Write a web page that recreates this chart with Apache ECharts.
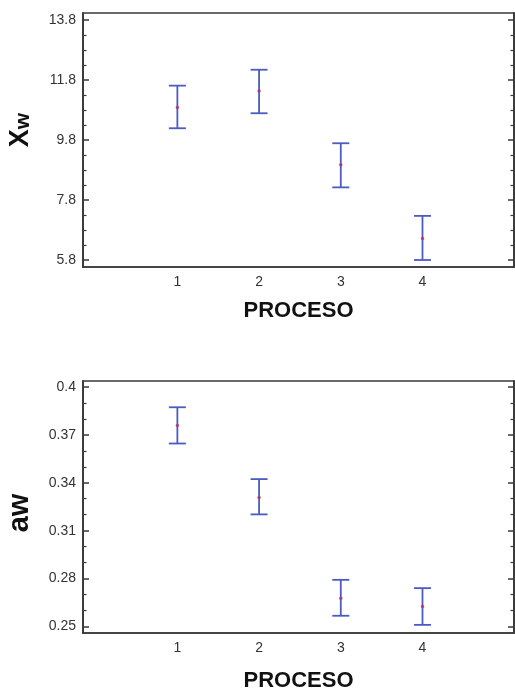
<!DOCTYPE html>
<html>
<head>
<meta charset="utf-8">
<style>
html,body{margin:0;padding:0;background:#fff;}
#c{width:515px;height:694px;}
</style>
<script src="https://cdn.jsdelivr.net/npm/echarts@6/dist/echarts.min.js"></script>
</head>
<body>
<div id="c"></div>
<script>
// ---- data ----
const procesos = [1, 2, 3, 4];
const xwMean  = [10.88, 11.43, 8.97, 6.52];
const xwLow   = [10.19, 10.69, 8.22, 5.80];
const xwHigh  = [11.61, 12.14, 9.69, 7.27];
const awMean  = [0.3758, 0.3308, 0.2677, 0.2625];
const awLow   = [0.3646, 0.3202, 0.2567, 0.2510];
const awHigh  = [0.3873, 0.3423, 0.2792, 0.2740];
const xwTicks = [5.8, 7.8, 9.8, 11.8, 13.8];
const awTicks = [0.25, 0.28, 0.31, 0.34, 0.37, 0.40];
const xTickLabels = [1, 2, 3, 4];

function minorsOf(ticks, n) {
  const out = [];
  for (let i = 0; i < ticks.length - 1; i++) {
    const step = (ticks[i + 1] - ticks[i]) / n;
    for (let k = 1; k < n; k++) out.push(+(ticks[i] + step * k).toFixed(6));
  }
  return out;
}

const BAR = '#4b5bc2';
const DOT = '#b8325a';
const AXC = '#3a3a3a';
const FONT = "'Liberation Sans', Arial, sans-serif";
const XMIN = -0.155, XMAX = 5.12;

// grids: 0 = Xw main, 1 = Xw minor-tick overlay, 2 = aw main, 3 = aw minor-tick overlay
const gridBase = { left: 83, right: 1, containLabel: false, outerBoundsMode: 'none' };
const grids = [
  Object.assign({}, gridBase, { top: 13, height: 254, show: true, borderColor: AXC, borderWidth: 1.5, backgroundColor: '#fff' }),
  Object.assign({}, gridBase, { top: 13, height: 254, show: false }),
  Object.assign({}, gridBase, { top: 381, height: 252, show: true, borderColor: AXC, borderWidth: 1.5, backgroundColor: '#fff' }),
  Object.assign({}, gridBase, { top: 381, height: 252, show: false })
];

function yPair(gridIndex, min, max, values, tickLen, withLabels, nameOpts) {
  const mk = (pos) => {
    const a = {
      type: 'value', gridIndex, min, max, position: pos, offset: 0,
      splitLine: { show: false },
      axisLine: { show: true, onZero: false, lineStyle: { color: AXC, width: 1.5 } },
      axisTick: { show: true, inside: true, length: tickLen, customValues: values, lineStyle: { color: AXC, width: tickLen > 4 ? 1.5 : 1.2 } },
      axisLabel: { show: false }
    };
    if (pos === 'left' && withLabels) {
      a.axisLabel = { show: true, customValues: values, margin: 7, color: '#333', fontSize: 14, fontFamily: FONT };
      Object.assign(a, nameOpts);
    }
    return a;
  };
  return [mk('left'), mk('right')];
}

function xAxisFor(gridIndex, visible, nameGap) {
  const a = {
    type: 'value', gridIndex, min: XMIN, max: XMAX, offset: 0, position: 'bottom',
    splitLine: { show: false },
    axisLine: { show: visible, onZero: false, lineStyle: { color: AXC, width: 1.5 } },
    axisTick: { show: false },
    axisLabel: { show: false }
  };
  if (visible) {
    a.name = 'PROCESO';
    a.nameLocation = 'middle';
    a.nameGap = nameGap;
    a.nameTextStyle = { fontSize: 22, fontWeight: 'bold', color: '#111', fontFamily: FONT };
    a.axisLabel = { show: true, customValues: xTickLabels, margin: 8, color: '#333', fontSize: 14, fontFamily: FONT };
  }
  return a;
}

const xwName = {
  name: '{b|X}{s|w}', nameLocation: 'middle', nameGap: 49, nameRotate: 90,
  nameTextStyle: {
    padding: [0, 0, 0, 20],
    rich: {
      b: { fontSize: 27, fontWeight: 'bold', color: '#111', fontFamily: FONT, verticalAlign: 'bottom' },
      s: { fontSize: 21, fontWeight: 'bold', color: '#111', fontFamily: FONT, verticalAlign: 'bottom' }
    }
  }
};
const awName = {
  name: 'aw', nameLocation: 'middle', nameGap: 49, nameRotate: 90,
  nameTextStyle: { fontSize: 29, fontWeight: 'bold', color: '#111', fontFamily: FONT, padding: [0, 12, 0, 0] }
};

const yAxes = [].concat(
  yPair(0, 5.567, 14.03, xwTicks, 6, true, xwName),                 // 0,1
  yPair(1, 5.567, 14.03, minorsOf(xwTicks, 4), 3.5, false, null),  // 2,3
  yPair(2, 0.2459, 0.40375, awTicks, 6, true, awName),              // 4,5
  yPair(3, 0.2459, 0.40375, minorsOf(awTicks, 3), 3.5, false, null) // 6,7
);

function errorSeries(xIdx, yIdx, low, high) {
  return {
    type: 'custom', xAxisIndex: xIdx, yAxisIndex: yIdx,
    data: procesos.map((p, i) => [p, low[i], high[i]]),
    encode: { x: 0, y: [1, 2] },
    renderItem: function (params, api) {
      const x = api.value(0);
      const lo = api.coord([x, api.value(1)]);
      const hi = api.coord([x, api.value(2)]);
      const hw = 8.5;
      const st = { stroke: BAR, lineWidth: 1.8 };
      return {
        type: 'group',
        children: [
          { type: 'line', shape: { x1: lo[0], y1: lo[1], x2: hi[0], y2: hi[1] }, style: st },
          { type: 'line', shape: { x1: lo[0] - hw, y1: lo[1], x2: lo[0] + hw, y2: lo[1] }, style: st },
          { type: 'line', shape: { x1: hi[0] - hw, y1: hi[1], x2: hi[0] + hw, y2: hi[1] }, style: st }
        ]
      };
    },
    silent: true
  };
}

function meanSeries(xIdx, yIdx, mean) {
  return {
    type: 'scatter', xAxisIndex: xIdx, yAxisIndex: yIdx,
    data: procesos.map((p, i) => [p, mean[i]]),
    symbol: 'circle', symbolSize: 3.5,
    itemStyle: { color: DOT },
    silent: true, z: 5
  };
}

const chart = echarts.init(document.getElementById('c'), null, { renderer: 'canvas' });
chart.setOption({
  animation: false,
  backgroundColor: '#fff',
  grid: grids,
  xAxis: [xAxisFor(0, true, 33), xAxisFor(1, false), xAxisFor(2, true, 37), xAxisFor(3, false)],
  yAxis: yAxes,
  series: [
    errorSeries(0, 0, xwLow, xwHigh),
    meanSeries(0, 0, xwMean),
    errorSeries(2, 4, awLow, awHigh),
    meanSeries(2, 4, awMean)
  ]
});
</script>
</body>
</html>
